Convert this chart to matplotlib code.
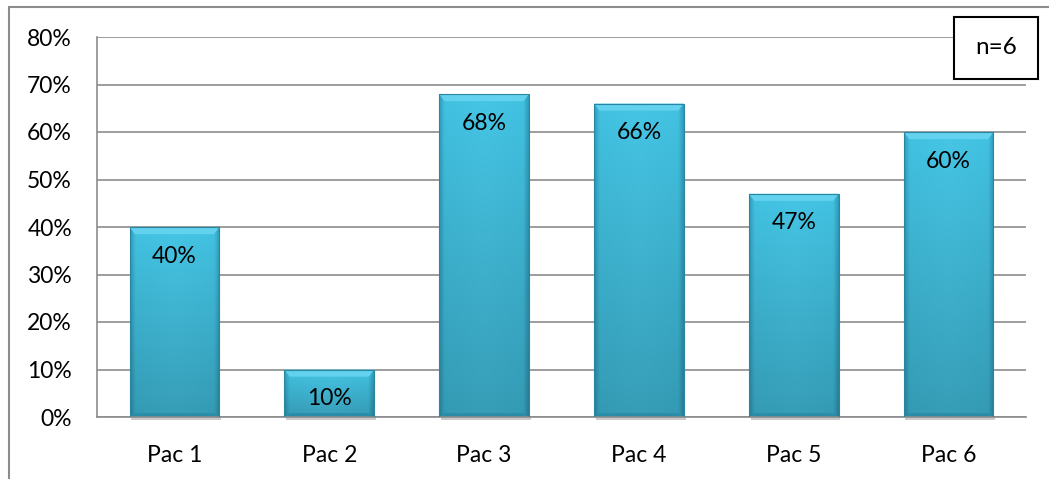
import matplotlib.pyplot as plt
import numpy as np
from matplotlib.colors import LinearSegmentedColormap
from matplotlib.patches import Rectangle, Polygon

plt.rcParams['font.family'] = ['Lato', 'DejaVu Sans']

patients = ["Pac 1", "Pac 2", "Pac 3", "Pac 4", "Pac 5", "Pac 6"]
values = [40, 10, 68, 66, 47, 60]
y_ticks = [0, 10, 20, 30, 40, 50, 60, 70, 80]
y_labels = [f"{t}%" for t in y_ticks]
note = "n=6"

W, H = 1049, 479
fig = plt.figure(figsize=(W / 100, H / 100), dpi=100)
ax = fig.add_axes([97 / W, 1 - 417 / H, 929 / W, 380 / H])

x = np.arange(len(patients))
bars = ax.bar(x, values, width=0.58, color="none", edgecolor="#2a86a0",
              linewidth=0.8, zorder=3)

# horizontal shading: narrow darker sides, flat middle
cmap = LinearSegmentedColormap.from_list(
    "cyan", [(0, "#2f97b4"), (0.06, "#40bcdb"), (0.5, "#44c0df"),
             (0.94, "#40bcdb"), (1, "#2f97b4")])
horiz = np.linspace(0, 1, 200)[None, :]
for bar, v in zip(bars, values):
    x0, w = bar.get_x(), bar.get_width()
    vert = np.linspace(0.82, 1.03, 100)[:, None]
    rgb = np.clip(cmap(np.repeat(horiz, 100, axis=0))[:, :, :3]
                  * vert[:, :, None], 0, 1)
    im = ax.imshow(rgb, extent=[x0, x0 + w, 0, v], origin="lower",
                   aspect="auto", zorder=2, interpolation="bilinear")
    im.set_clip_path(bar)
    # bevel at the top
    dx, dy = w * 0.06, 1.5
    ax.add_patch(Polygon([(x0, v), (x0 + w, v), (x0 + w - dx, v - dy),
                          (x0 + dx, v - dy)], closed=True,
                         facecolor="#62d2ee", edgecolor="none", zorder=2.5))
    # darker band at the foot
    ax.add_patch(Polygon([(x0, 0), (x0 + w, 0), (x0 + w - dx, 0.8),
                          (x0 + dx, 0.8)], closed=True,
                         facecolor="#2a8ca8", edgecolor="none", zorder=2.5))
    # soft shadow under the bar
    ax.add_patch(Rectangle((x0 + w * 0.02, -0.6), w, 0.6,
                           facecolor="#999999", edgecolor="none",
                           alpha=0.5, zorder=1.5, clip_on=False))
    ax.annotate(f"{v}%", (x0 + w / 2, v), xytext=(0, -21),
                textcoords="offset points", ha="center", va="center",
                fontsize=16.5, color="black", zorder=5)

ax.set_xlim(-0.5, len(patients) - 0.5)
ax.set_ylim(0, 80)
ax.set_yticks(y_ticks)
ax.set_yticklabels(y_labels, fontsize=16.5)
ax.set_xticks(x)
ax.set_xticklabels(patients, fontsize=16.5)
ax.tick_params(axis="both", length=0)
ax.tick_params(axis="y", pad=18)
ax.tick_params(axis="x", pad=20)
ax.yaxis.grid(True, color="#8c8c8c", linewidth=1.2, zorder=0)
ax.set_axisbelow(True)
for side in ["top", "right"]:
    ax.spines[side].set_visible(False)
for side in ["left", "bottom"]:
    ax.spines[side].set_color("#8c8c8c")
    ax.spines[side].set_linewidth(1.2)

# sample size box
fig.text(996 / W, 1 - 48 / H, note, ha="center", va="center", fontsize=17.5,
         bbox=dict(boxstyle="square,pad=0.85", facecolor="white",
                   edgecolor="black", linewidth=1.5))

# outer frame
fig.patches.append(Rectangle((9 / W, -0.1), 1.2, 1 - 7 / H + 0.1,
                             transform=fig.transFigure, fill=False,
                             edgecolor="#8c8c8c", linewidth=1.5))

fig.savefig("out.png", dpi=100)
